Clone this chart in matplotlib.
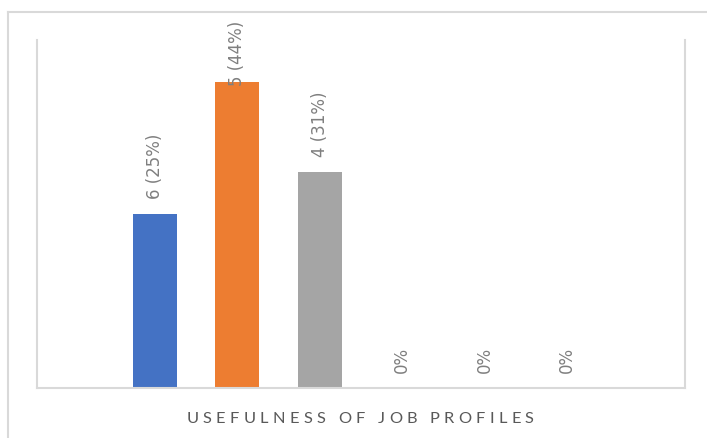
import matplotlib
matplotlib.use("Agg")
import matplotlib.pyplot as plt
from matplotlib.lines import Line2D

# data
series = ["S1", "S2", "S3", "S4", "S5", "S6"]
percents = [25, 44, 31, 0, 0, 0]
labels = ["6 (25%)", "5 (44%)", "4 (31%)", "0%", "0%", "0%"]
colors = ["#4472C4", "#ED7D31", "#A5A5A5", "#FFC000", "#5B9BD5", "#70AD47"]
title = "USEFULNESS OF JOB PROFILES"

W, H = 707, 439
fig = plt.figure(figsize=(W / 100, H / 100), dpi=100)
fig.patch.set_facecolor("white")

# outer chart border (visible left and top)
fig.add_artist(Line2D([7.5 / W, 7.5 / W], [0, 1 - 12.5 / H], transform=fig.transFigure,
                      color="#D9D9D9", lw=1.5))
fig.add_artist(Line2D([7.5 / W, 1], [1 - 12.5 / H, 1 - 12.5 / H], transform=fig.transFigure,
                      color="#D9D9D9", lw=1.5))

ax = fig.add_axes([37 / W, (H - 389) / H, (685 - 37) / W, (389 - 41) / H])
x = list(range(len(series)))
ax.bar(x, percents, width=0.53, color=colors)
ax.set_xlim(-1.43, len(series) - 1 + 1.43)
ax.set_ylim(0, 50)
ax.set_xticks([])
ax.set_yticks([])
for s in ["left", "right", "bottom"]:
    ax.spines[s].set_color("#D9D9D9")
    ax.spines[s].set_linewidth(1.5)
ax.spines["top"].set_visible(False)

for xi, v, lab in zip(x, percents, labels):
    base = min(v + 2.3, 43.5)
    ax.text(xi, base, lab, rotation=90, ha="center", va="bottom",
            fontsize=12, color="#7F7F7F", clip_on=False)

# letter-spaced title, drawn character by character
tfont = dict(fontsize=11.8, color="#595959", family=["Lato", "DejaVu Sans"])
tracking = 4.3  # px between letters
renderer = fig.canvas.get_renderer()

def text_w(s):
    t = fig.text(0, 0, s, **tfont)
    w = t.get_window_extent(renderer).width
    t.remove()
    return w

space_w = text_w("a a") - text_w("aa")
widths = [space_w if ch == " " else text_w(ch) for ch in title]
total = sum(widths) + tracking * (len(title) - 1)
cx = 360.0
baseline_y = 1 - 423 / H
pos = cx - total / 2
for ch, w in zip(title, widths):
    if ch != " ":
        fig.text(pos / W, baseline_y, ch, ha="left", va="baseline", **tfont)
    pos += w + tracking

fig.savefig("out.png", dpi=100)
